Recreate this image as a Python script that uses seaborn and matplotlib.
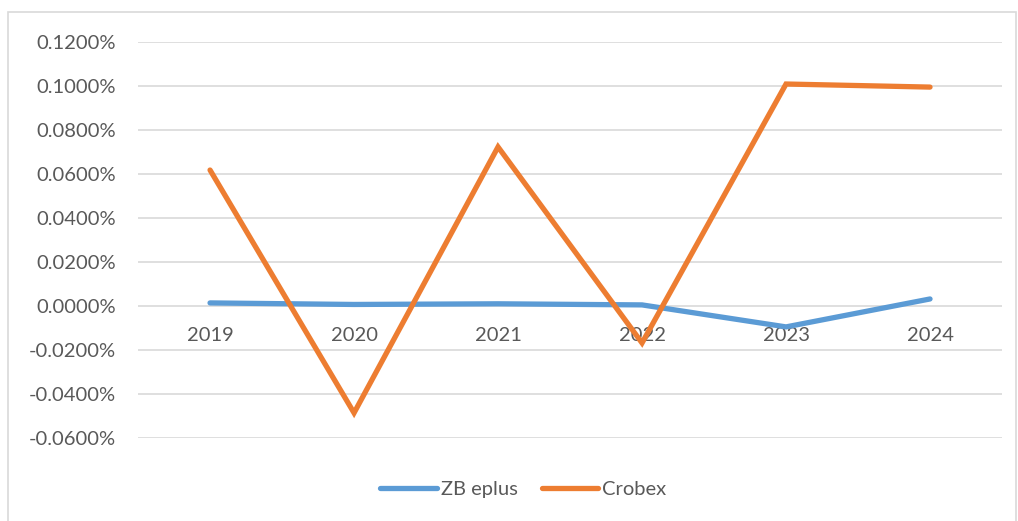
import pandas as pd
import seaborn as sns
import matplotlib.pyplot as plt
from matplotlib.patches import Rectangle

# Data (values in percent)
years = ['2019', '2020', '2021', '2022', '2023', '2024']
zb_eplus = [0.0014, 0.0007, 0.0010, 0.0005, -0.0095, 0.0032]
crobex = [0.0618, -0.0486, 0.0723, -0.0168, 0.1009, 0.0995]
series_names = ['ZB eplus', 'Crobex']
yticks = [-0.06, -0.04, -0.02, 0.0, 0.02, 0.04, 0.06, 0.08, 0.10, 0.12]

df = pd.DataFrame({
    'pos': list(range(len(years))) * 2,
    'value': zb_eplus + crobex,
    'series': [series_names[0]] * len(years) + [series_names[1]] * len(years),
})

sns.set_style('white')
plt.rcParams['font.family'] = ['Lato', 'DejaVu Sans']

fig = plt.figure(figsize=(10.18, 5.21), dpi=100)
ax = fig.add_axes([0.1356, 0.1593, 0.8487, 0.7601])

sns.lineplot(data=df, x='pos', y='value', hue='series', hue_order=series_names,
             palette=['#5B9BD5', '#ED7D31'], linewidth=3.8, ax=ax,
             solid_capstyle='round', solid_joinstyle='miter', legend=True)

ax.set_xlim(-0.5, len(years) - 0.5)
ax.set_ylim(-0.06, 0.12)
ax.set_yticks(yticks)
ax.set_yticklabels([f'{v:.4f}%' for v in yticks])
ax.set_xticks(range(len(years)))
ax.set_xticklabels(years)
ax.set_xlabel('')
ax.set_ylabel('')

ax.yaxis.grid(True, color='#D9D9D9', linewidth=1.2)
ax.set_axisbelow(True)
for s in ['top', 'right', 'left']:
    ax.spines[s].set_visible(False)
ax.spines['bottom'].set_position(('data', 0))
ax.spines['bottom'].set_visible(False)
ax.tick_params(axis='x', length=0, pad=15, labelsize=14.5, labelcolor='#595959')
ax.tick_params(axis='y', length=0, pad=16, labelsize=14.5, labelcolor='#595959')

handles, labels = ax.get_legend_handles_labels()
ax.get_legend().remove()
fig.legend(handles, labels, loc='center', bbox_to_anchor=(0.514, 0.06), ncol=2,
           frameon=False, fontsize=14.5, labelcolor='#595959',
           handlelength=2.8, handletextpad=0.2, columnspacing=1.2)

# light border around the chart area
fig.patches.append(Rectangle((0.008, -0.01), 0.99, 0.987, transform=fig.transFigure,
                             fill=False, edgecolor='#D9D9D9', linewidth=1.2))

fig.savefig('out.png', dpi=100)
